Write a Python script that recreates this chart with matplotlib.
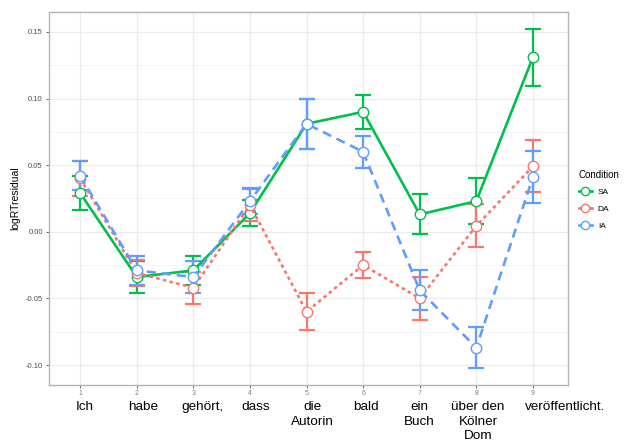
import matplotlib.pyplot as plt
from matplotlib.ticker import MultipleLocator

plt.rcParams['font.family'] = ['Liberation Sans', 'DejaVu Sans']

positions = [1, 2, 3, 4, 5, 6, 7, 8, 9]
words = ['Ich', 'habe', 'gehört,', 'dass', 'die\nAutorin', 'bald',
         'ein\nBuch', 'über den\nKölner\nDom', 'veröffentlicht.']
word_x = [85, 143, 202, 256, 312, 366, 419, 478, 565]  # pixel centers of the overlaid words

conditions = ['SA', 'DA', 'IA']
sa_mean = [0.029, -0.034, -0.029, 0.014, 0.081, 0.090, 0.013, 0.023, 0.131]
sa_err = [0.013, 0.012, 0.011, 0.0095, 0.019, 0.013, 0.015, 0.017, 0.0215]
da_mean = [0.040, -0.031, -0.042, 0.020, -0.060, -0.025, -0.050, 0.0045, 0.049]
da_err = [0.013, 0.010, 0.012, 0.012, 0.014, 0.010, 0.016, 0.016, 0.0195]
ia_mean = [0.042, -0.029, -0.034, 0.023, 0.081, 0.060, -0.044, -0.087, 0.041]
ia_err = [0.011, 0.011, 0.012, 0.0095, 0.019, 0.012, 0.015, 0.0155, 0.0195]

colors = {'SA': '#00BF4C', 'DA': '#F8766D', 'IA': '#619CFF'}
styles = {'SA': '-', 'DA': (0, (1.3, 1.3)), 'IA': (0, (3.5, 2.2))}
means = {'SA': sa_mean, 'DA': da_mean, 'IA': ia_mean}
errs = {'SA': sa_err, 'DA': da_err, 'IA': ia_err}

fig = plt.figure(figsize=(6.29, 4.41), dpi=100)
ax = fig.add_axes([0.078, 0.127, 0.825, 0.846])

handles = []
for c in conditions:
    ax.errorbar(positions, means[c], yerr=errs[c], fmt='none', ecolor=colors[c],
                elinewidth=1.6, capsize=5.5, capthick=1.6, zorder=3)
    h, = ax.plot(positions, means[c], color=colors[c], linestyle=styles[c],
                 linewidth=1.9, marker='o', markersize=7.5, markerfacecolor='white',
                 markeredgecolor=colors[c], markeredgewidth=1.0, zorder=4, label=c)
    handles.append(h)

ax.set_xlim(0.45, 9.62)
ax.set_ylim(-0.115, 0.165)
ax.set_xticks(positions)
ax.set_xticklabels([str(p) for p in positions])
ax.yaxis.set_major_locator(MultipleLocator(0.05))
ax.yaxis.set_minor_locator(MultipleLocator(0.025))
ax.set_yticks([-0.10, -0.05, 0.00, 0.05, 0.10, 0.15])
ax.set_yticklabels(['-0.10', '-0.05', '0.00', '0.05', '0.10', '0.15'])
ax.grid(True, which='major', color='#EBEBEB', linewidth=0.9, zorder=0)
ax.grid(True, which='minor', axis='y', color='#F2F2F2', linewidth=0.6, zorder=0)
ax.set_axisbelow(True)
ax.tick_params(axis='both', which='major', labelsize=5.5, colors='#4D4D4D',
               length=2.5, width=0.6, pad=2)
ax.tick_params(axis='x', labelsize=5, labelcolor='#7F7F7F', pad=1)
ax.tick_params(axis='y', which='minor', length=0)
for s in ax.spines.values():
    s.set_color('#B3B3B3')
    s.set_linewidth(1.0)
ax.set_ylabel('logRTresidual', fontsize=7.5, labelpad=4)

leg = fig.legend(handles=handles, labels=conditions, title='Condition',
                 loc='upper left', bbox_to_anchor=(0.908, 0.632), frameon=False,
                 fontsize=6, title_fontsize=7, handlelength=1.6, handletextpad=0.7,
                 labelspacing=1.05)
leg._legend_box.align = 'left'
for lh in leg.legend_handles:
    lh.set_linestyle('-')
    lh.set_markersize(6)

W, H = 629, 441
for x, w in zip(word_x, words):
    fig.text(x / W, 1 - 401 / H, w, ha='center', va='top', fontsize=9.7,
             color='black', linespacing=1.3)

fig.savefig('out.png', dpi=100)
